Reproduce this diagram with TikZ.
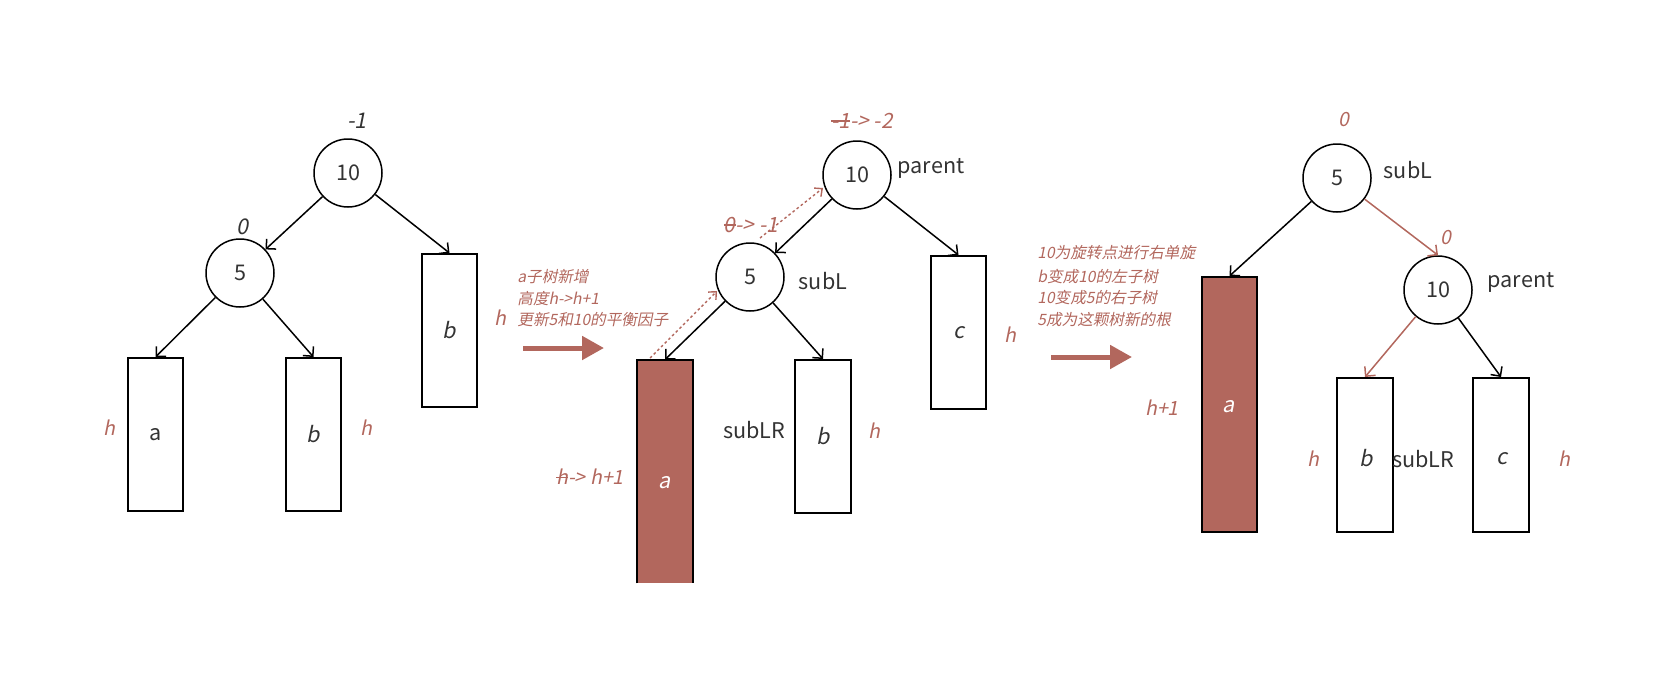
\documentclass[tikz,border=0pt]{standalone}
\usepackage{fontspec}
\setmainfont{Noto Sans CJK SC}
\newfontfamily\slfont[FakeSlant=0.2]{Noto Sans CJK SC}
\usetikzlibrary{arrows.meta}
\definecolor{rb}{HTML}{B2675D}
\definecolor{tg}{HTML}{333333}
\newcommand\mystrike[1]{\setbox0\hbox{#1}\rlap{\rule[0.33em]{\wd0}{0.07em}}\box0}
\begin{document}
\begin{tikzpicture}[x=0.5pt,y=-0.5pt,
  circ/.style={draw=black, circle, line width=0.75pt, minimum size=34pt, inner sep=0pt, text=tg, font=\fontsize{10.8}{12}\selectfont},
  sbox/.style={draw=black, rectangle, line width=1pt, inner sep=0pt, minimum width=27.5pt, minimum height=76.5pt},
  txt/.style={font=\fontsize{10.8}{12}\selectfont, text=tg, inner sep=0pt},
  itx/.style={font=\slfont\fontsize{10.8}{12}\selectfont, text=tg, inner sep=0pt},
  rit/.style={font=\slfont\fontsize{9.8}{12}\selectfont, text=rb, inner sep=0pt},
  note/.style={font=\slfont\fontsize{7.8}{10}\selectfont, text=rb, anchor=west, inner sep=0pt},
  edge/.style={draw=black, line width=0.75pt, -{Straight Barb[length=3.5pt,width=7pt]}},
  redge/.style={draw=rb, line width=0.75pt, -{Straight Barb[length=3.5pt,width=7pt]}},
  dotedge/.style={draw=rb, line width=0.7pt, dash pattern=on 1.3pt off 1.3pt, -{Straight Barb[length=3pt,width=5.5pt]}},
  bigarrow/.style={draw=rb, line width=2.5pt, -{Triangle[length=11pt,width=11.5pt]}}
]
\useasboundingbox (0,0) rectangle (1659,680);

% ---------- left tree ----------
\node[circ] (L10) at (348,173) {10};
\node[circ] (L5) at (240,273) {5};
\node[sbox] (La) at (155.5,434.5) {};
\node[txt] at (La) {a};
\node[sbox] (Lb) at (313.5,434.5) {};
\node[itx] at (Lb) {b};
\node[sbox] (Lb2) at (449.5,330.5) {};
\node[itx] at (Lb2) {b};
\node[itx] (Lbf10) at (357,121) {-1};
\node[itx] (Lbf5) at (242,227) {0};
\node[rit] (Lha) at (109,428) {h};
\node[rit] (Lhb) at (366,428) {h};
\node[rit] (Lhb2) at (500,318) {h};
\draw[edge] (L10) -- (L5);
\draw[edge] (L10) -- (Lb2.north);
\draw[edge] (L5) -- (La.north);
\draw[edge] (L5) -- (Lb.north);

% ---------- first note + arrow ----------
\node[note] (n1a) at (517,277) {a子树新增};
\node[note] (n1b) at (517,299) {高度h->h+1};
\node[note] (n1c) at (517,320) {更新5和10的平衡因子};
\coordinate (A1s) at (523,348);
\coordinate (A1e) at (604,348);
\draw[bigarrow] (A1s) -- (A1e);

% ---------- middle tree ----------
\node[circ] (M10) at (857,175) {10};
\node[circ] (M5) at (750,277) {5};
\node[rectangle, fill=rb, inner sep=0pt, minimum width=28pt, minimum height=111.5pt] (Ma) at (665,471.5) {};
\draw[black, line width=1pt] (Ma.south west) -- (Ma.north west) -- (Ma.north east) -- (Ma.south east);
\node[font=\slfont\fontsize{10.8}{12}\selectfont, text=white, inner sep=0pt] at (665,483) {a};
\node[sbox, minimum width=28pt] (Mb) at (823,436.5) {};
\node[itx] at (Mb) {b};
\node[sbox] (Mc) at (958.5,332.5) {};
\node[itx] at (Mc) {c};
\node[txt] (Mparent) at (931,168) {parent};
\node[txt] (MsubL) at (823,281) {subL};
\node[txt] (MsubLR) at (754,430) {subLR};
\node[rit, font=\slfont\fontsize{10.5}{12}\selectfont] (Mbf10) at (862,121) {\mystrike{-1} -> -2};
\node[rit, font=\slfont\fontsize{10.5}{12}\selectfont] (Mbf5) at (751,225) {\mystrike{0} -> -1};
\node[rit] (Mha) at (590,477) {\mystrike{h} -> h+1};
\node[rit] (Mhb) at (874,431) {h};
\node[rit] (Mhc) at (1010,335) {h};
\draw[edge] (M10) -- (M5);
\draw[edge] (M10) -- (Mc.north);
\draw[edge] (M5) -- (Ma.north);
\draw[edge] (M5) -- (Mb.north);
\coordinate (D1s) at (650,358);
\coordinate (D1e) at (717,291);
\coordinate (D2s) at (760,238);
\coordinate (D2e) at (823,188);
\draw[dotedge] (D1s) -- (D1e);
\draw[dotedge] (D2s) -- (D2e);

% ---------- second note + arrow ----------
\node[note] (n2a) at (1037,253) {10为旋转点进行右单旋};
\node[note] (n2b) at (1037,277) {b变成10的左子树};
\node[note] (n2c) at (1037,298) {10变成5的右子树};
\node[note] (n2d) at (1037,320) {5成为这颗树新的根};
\coordinate (A2s) at (1051,357);
\coordinate (A2e) at (1132,357);
\draw[bigarrow] (A2s) -- (A2e);

% ---------- right tree ----------
\node[circ] (R5) at (1337,178) {5};
\node[circ] (R10) at (1438,290) {10};
\node[sbox, fill=rb, minimum height=127.5pt] (Ra) at (1229.5,404.5) {};
\node[font=\slfont\fontsize{10.8}{12}\selectfont, text=white, inner sep=0pt] at (1229,407) {a};
\node[sbox, minimum width=28pt, minimum height=77pt] (Rb) at (1365,455) {};
\node[itx] at (1366,458) {b};
\node[sbox, minimum width=28pt, minimum height=77pt] (Rc) at (1501,455) {};
\node[itx] at (1502,459) {c};
\node[txt] (RsubL) at (1408,170) {subL};
\node[txt] (Rparent) at (1521,282) {parent};
\node[txt] (RsubLR) at (1423,459) {subLR};
\node[rit] (Rbf5) at (1344,120) {0};
\node[rit] (Rbf10) at (1446,238) {0};
\node[rit] (Rha) at (1162,408) {h+1};
\node[rit] (Rhb) at (1313,459) {h};
\node[rit] (Rhc) at (1564,459) {h};
\draw[edge] (R5) -- (Ra.north);
\draw[redge] (R5) -- (R10.north);
\draw[redge] (R10) -- (Rb.north);
\draw[edge] (R10) -- (Rc.north);
\end{tikzpicture}
\end{document}
